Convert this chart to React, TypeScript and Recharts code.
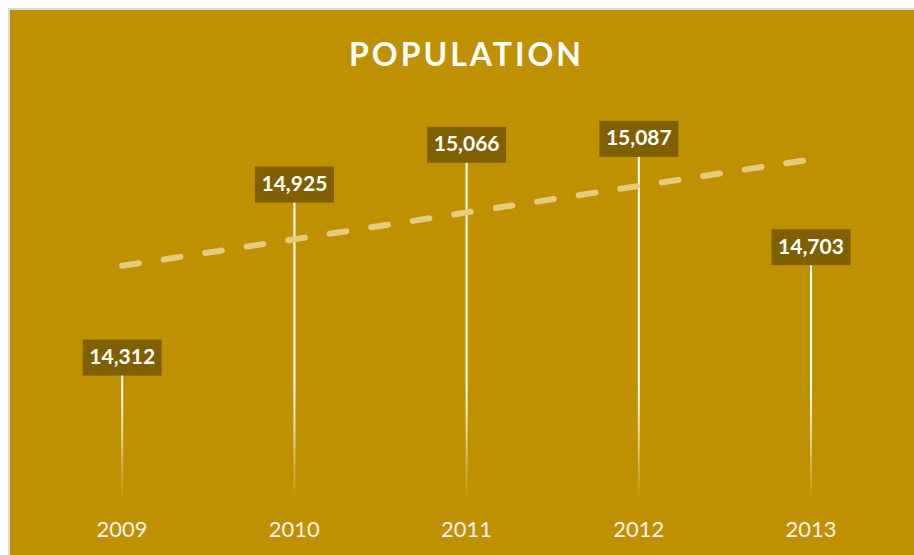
import { ComposedChart, Bar, Line, XAxis, YAxis, LabelList } from 'recharts'

const YEARS = ['2009', '2010', '2011', '2012', '2013']
const POPULATION = [14312, 14925, 15066, 15087, 14703]
// linear trendline
const TREND = [14630, 14724, 14819, 14913, 15007]

const BG = '#BF9000'
const LABEL_BG = '#7F6000'

const chartData = YEARS.map((year, i) => ({
  year,
  population: POPULATION[i],
  trend: TREND[i],
}))

// thin white stick that fades out near the axis
function Stick(props: any) {
  const { x, y, width, height, index } = props
  const cx = x + width / 2
  const bottom = y + height
  const id = `fade-${index}`
  return (
    <g>
      <defs>
        <linearGradient id={id} gradientUnits="userSpaceOnUse" x1={0} x2={0} y1={bottom - 110} y2={bottom}>
          <stop offset="0%" stopColor="#ffffff" stopOpacity={1} />
          <stop offset="100%" stopColor="#ffffff" stopOpacity={0} />
        </linearGradient>
      </defs>
      <rect x={cx - 1} y={y} width={2} height={height} fill={`url(#${id})`} />
    </g>
  )
}

function ValueTag(props: any) {
  const { x, y, width, value } = props
  const cx = x + width / 2
  const w = 79
  const h = 36
  return (
    <g>
      <rect x={cx - w / 2} y={y - h / 2 + 2} width={w} height={h} fill={LABEL_BG} />
      <text
        x={cx}
        y={y + 3}
        textAnchor="middle"
        dominantBaseline="middle"
        fill="#ffffff"
        fontFamily="Lato, sans-serif"
        fontWeight={700}
        fontSize={21}
      >
        {value.toLocaleString('en-US')}
      </text>
    </g>
  )
}

export default function App() {
  return (
    <div>
      <style>{`body{margin:0;overflow:hidden}`}</style>
      <div
        style={{
          position: 'absolute',
          left: 8,
          top: 8,
          width: 906,
          height: 547,
          background: BG,
          borderLeft: '2px solid #d9d9d9',
          borderTop: '2px solid #d9d9d9',
        }}
      >
        <div
          style={{
            position: 'absolute',
            left: 26,
            width: 861,
            top: 24,
            textAlign: 'center',
            color: '#ffffff',
            fontFamily: 'Lato, sans-serif',
            fontWeight: 700,
            fontSize: 32,
            letterSpacing: 3,
            lineHeight: '40px',
          }}
        >
          POPULATION
        </div>
        <ComposedChart
          width={906}
          height={545}
          data={chartData}
          margin={{ top: 95, right: 19, bottom: 15, left: 26 }}
        >
          <XAxis
            dataKey="year"
            axisLine={false}
            tickLine={false}
            height={40}
            tick={{ fill: '#f2f2f2', fontSize: 22, fontFamily: 'Lato, sans-serif' }}
            tickMargin={15}
          />
          <YAxis hide domain={[13800, 15200]} allowDataOverflow />
          <Bar dataKey="population" shape={<Stick />} isAnimationActive={false}>
            <LabelList dataKey="population" content={<ValueTag />} />
          </Bar>
          <Line
            type="linear"
            dataKey="trend"
            stroke="#E5CB7C"
            strokeWidth={6}
            strokeDasharray="17 25"
            strokeLinecap="round"
            dot={false}
            activeDot={false}
            isAnimationActive={false}
          />
        </ComposedChart>
      </div>
    </div>
  )
}
